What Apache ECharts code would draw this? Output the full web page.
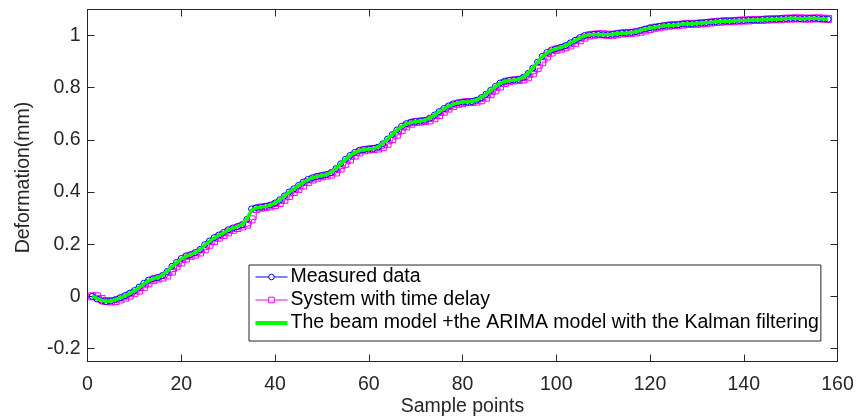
<!DOCTYPE html>
<html>
<head>
<meta charset="utf-8">
<script src="https://cdn.jsdelivr.net/npm/echarts@6/dist/echarts.min.js"></script>
<style>
  html, body { margin: 0; padding: 0; background: #fff; }
  #chart { width: 859px; height: 417px; }
</style>
</head>
<body>
<div id="chart"></div>
<script>
// Deformation recorded at each sample point (mm)
const measured = [
  0.000, -0.010, -0.018, -0.020, -0.018, -0.012, -0.005, 0.003, 0.012, 0.022,
  0.035, 0.050, 0.062, 0.068, 0.072, 0.080, 0.095, 0.115, 0.130, 0.145,
  0.155, 0.160, 0.168, 0.180, 0.198, 0.212, 0.225, 0.235, 0.245, 0.255,
  0.262, 0.268, 0.275, 0.295, 0.335, 0.340, 0.342, 0.345, 0.350, 0.358,
  0.370, 0.385, 0.400, 0.412, 0.425, 0.438, 0.448, 0.455, 0.460, 0.463,
  0.467, 0.475, 0.490, 0.508, 0.525, 0.540, 0.552, 0.560, 0.563, 0.565,
  0.567, 0.572, 0.585, 0.603, 0.620, 0.638, 0.652, 0.662, 0.668, 0.670,
  0.672, 0.675, 0.683, 0.695, 0.708, 0.720, 0.730, 0.738, 0.742, 0.745,
  0.745, 0.747, 0.752, 0.762, 0.775, 0.790, 0.805, 0.818, 0.825, 0.828,
  0.830, 0.832, 0.840, 0.855, 0.875, 0.898, 0.920, 0.935, 0.945, 0.950,
  0.955, 0.962, 0.972, 0.982, 0.992, 1.000, 1.003, 1.005, 1.005, 1.003,
  1.003, 1.005, 1.008, 1.010, 1.010, 1.012, 1.015, 1.020, 1.025, 1.030,
  1.032, 1.035, 1.038, 1.040, 1.040, 1.042, 1.045, 1.045, 1.045, 1.047,
  1.048, 1.050, 1.052, 1.053, 1.055, 1.055, 1.055, 1.057, 1.058, 1.058,
  1.060, 1.060, 1.060, 1.062, 1.062, 1.063, 1.063, 1.065, 1.065, 1.066,
  1.066, 1.065, 1.065, 1.066, 1.066, 1.065, 1.064, 1.063
];

// Output of the system with one sample of time delay (mm)
const delayed = [
  0.000, 0.000, -0.010, -0.018, -0.020, -0.018, -0.012, -0.005, 0.003, 0.012,
  0.022, 0.035, 0.050, 0.062, 0.068, 0.072, 0.080, 0.095, 0.115, 0.130,
  0.145, 0.155, 0.160, 0.168, 0.180, 0.198, 0.212, 0.225, 0.235, 0.245,
  0.255, 0.262, 0.268, 0.275, 0.295, 0.335, 0.340, 0.342, 0.345, 0.350,
  0.358, 0.370, 0.385, 0.400, 0.412, 0.425, 0.438, 0.448, 0.455, 0.460,
  0.463, 0.467, 0.475, 0.490, 0.508, 0.525, 0.540, 0.552, 0.560, 0.563,
  0.565, 0.567, 0.572, 0.585, 0.603, 0.620, 0.638, 0.652, 0.662, 0.668,
  0.670, 0.672, 0.675, 0.683, 0.695, 0.708, 0.720, 0.730, 0.738, 0.742,
  0.745, 0.745, 0.747, 0.752, 0.762, 0.775, 0.790, 0.805, 0.818, 0.825,
  0.828, 0.830, 0.832, 0.840, 0.855, 0.875, 0.898, 0.920, 0.935, 0.945,
  0.950, 0.955, 0.962, 0.972, 0.982, 0.992, 1.000, 1.003, 1.005, 1.005,
  1.003, 1.003, 1.005, 1.008, 1.010, 1.010, 1.012, 1.015, 1.020, 1.025,
  1.030, 1.032, 1.035, 1.038, 1.040, 1.040, 1.042, 1.045, 1.045, 1.045,
  1.047, 1.048, 1.050, 1.052, 1.053, 1.055, 1.055, 1.055, 1.057, 1.058,
  1.058, 1.060, 1.060, 1.060, 1.062, 1.062, 1.063, 1.063, 1.065, 1.065,
  1.066, 1.066, 1.065, 1.065, 1.066, 1.066, 1.065, 1.064
];

// Beam model + ARIMA model with Kalman filtering (mm)
const kalman = [
  0.000, -0.008, -0.016, -0.019, -0.018, -0.013, -0.006, 0.002, 0.011, 0.021,
  0.034, 0.048, 0.060, 0.068, 0.073, 0.081, 0.096, 0.114, 0.129, 0.143,
  0.154, 0.160, 0.168, 0.180, 0.196, 0.211, 0.224, 0.234, 0.244, 0.254,
  0.262, 0.268, 0.276, 0.296, 0.330, 0.339, 0.342, 0.345, 0.350, 0.358,
  0.370, 0.385, 0.399, 0.412, 0.425, 0.437, 0.447, 0.455, 0.460, 0.463,
  0.467, 0.476, 0.490, 0.507, 0.524, 0.539, 0.551, 0.559, 0.563, 0.565,
  0.567, 0.573, 0.586, 0.603, 0.620, 0.637, 0.651, 0.661, 0.667, 0.670,
  0.672, 0.676, 0.684, 0.695, 0.708, 0.719, 0.729, 0.737, 0.742, 0.745,
  0.746, 0.748, 0.753, 0.763, 0.776, 0.790, 0.804, 0.817, 0.824, 0.828,
  0.830, 0.833, 0.841, 0.856, 0.876, 0.897, 0.918, 0.933, 0.944, 0.950,
  0.955, 0.962, 0.971, 0.981, 0.991, 0.999, 1.003, 1.004, 1.004, 1.003,
  1.003, 1.005, 1.008, 1.009, 1.010, 1.012, 1.015, 1.020, 1.025, 1.029,
  1.032, 1.035, 1.038, 1.039, 1.040, 1.042, 1.044, 1.045, 1.045, 1.047,
  1.048, 1.050, 1.051, 1.053, 1.054, 1.055, 1.055, 1.057, 1.058, 1.058,
  1.059, 1.060, 1.060, 1.061, 1.062, 1.063, 1.063, 1.064, 1.065, 1.066,
  1.066, 1.065, 1.065, 1.066, 1.066, 1.065, 1.064, 1.063
];

const xTicks = [0, 20, 40, 60, 80, 100, 120, 140, 160];
const yTicks = [-0.2, 0, 0.2, 0.4, 0.6, 0.8, 1];

const seriesNames = [
  'Measured data',
  'System with time delay',
  'The beam model +the ARIMA model with the Kalman filtering'
];

// Pair each value with its sample index (1-based)
const withIndex = arr => arr.map((v, i) => [i + 1, v]);

const FONT = 'Liberation Sans, Arial, sans-serif';
const FONT_SIZE = 19.5;
const INK = '#262626';

const chart = echarts.init(document.getElementById('chart'), null, { renderer: 'canvas' });

const baseX = {
  type: 'value', min: 0, max: 160, interval: 20,
  axisLine: { show: true, onZero: false, lineStyle: { color: INK, width: 1 } },
  axisTick: { show: true, inside: true, length: 7, lineStyle: { color: INK } },
  splitLine: { show: false }
};
const baseY = {
  type: 'value', min: -0.25, max: 1.1,
  axisLine: { show: true, onZero: false, lineStyle: { color: INK, width: 1 } },
  axisTick: { show: true, inside: true, length: 7, customValues: yTicks, lineStyle: { color: INK } },
  splitLine: { show: false }
};

chart.setOption({
  animation: false,
  backgroundColor: '#fff',
  grid: {
    left: 87.5, right: 21.5, top: 9.5, bottom: 55.5,
    containLabel: false, outerBoundsMode: 'none'
  },
  xAxis: [
    Object.assign({}, baseX, {
      position: 'bottom',
      name: 'Sample points', nameLocation: 'middle', nameGap: 35, nameMoveOverlap: false,
      nameTextStyle: { fontFamily: FONT, fontSize: FONT_SIZE, color: INK },
      axisLabel: { show: true, margin: 13, fontFamily: FONT, fontSize: FONT_SIZE, color: INK,
        customValues: xTicks }
    }),
    Object.assign({}, baseX, { position: 'top', axisLabel: { show: false } })
  ],
  yAxis: [
    Object.assign({}, baseY, {
      position: 'left',
      name: 'Deformation(mm)', nameLocation: 'middle', nameGap: 54, nameRotate: 90,
      nameMoveOverlap: false,
      nameTextStyle: { fontFamily: FONT, fontSize: FONT_SIZE, color: INK, padding: [0, 0, 0, 16] },
      axisLabel: { show: true, margin: 7, fontFamily: FONT, fontSize: FONT_SIZE, color: INK,
        customValues: yTicks,
        formatter: v => String(Math.round(v * 10) / 10) }
    }),
    Object.assign({}, baseY, { position: 'right', axisLabel: { show: false } })
  ],
  legend: {
    orient: 'vertical',
    left: 249, top: 265,
    padding: [2, 2, 8, 6],
    itemGap: 3,
    itemWidth: 32, itemHeight: 7,
    backgroundColor: '#fff',
    borderColor: INK, borderWidth: 1, borderRadius: 0,
    lineStyle: { width: 1 },
    textStyle: { fontFamily: FONT, fontSize: FONT_SIZE, color: '#000', padding: [0, 0, 0, -2] },
    data: [
      { name: seriesNames[0], itemStyle: { color: '#fff', borderColor: '#0000ff', borderWidth: 1 } },
      { name: seriesNames[1], itemStyle: { color: '#fff', borderColor: '#ff00ff', borderWidth: 1 } },
      { name: seriesNames[2], icon: 'path://M0 0H32V4H0Z', itemStyle: { color: '#00ff00' } }
    ]
  },
  series: [
    {
      name: seriesNames[0], type: 'line', z: 3,
      data: withIndex(measured),
      symbol: 'circle', symbolSize: 6, showAllSymbol: true,
      lineStyle: { color: '#0000ff', width: 1 },
      itemStyle: { color: 'rgba(0,0,0,0)', borderColor: '#0000ff', borderWidth: 1 }
    },
    {
      name: seriesNames[1], type: 'line', z: 2, step: 'end',
      data: withIndex(delayed),
      symbol: 'rect', symbolSize: 7, showAllSymbol: true,
      lineStyle: { color: '#ff00ff', width: 1 },
      itemStyle: { color: 'rgba(0,0,0,0)', borderColor: '#ff00ff', borderWidth: 1 }
    },
    {
      name: seriesNames[2], type: 'line', z: 4,
      data: withIndex(kalman),
      symbol: 'none',
      lineStyle: { color: '#00ff00', width: 3.5 },
      itemStyle: { color: '#00ff00' }
    }
  ]
});
</script>
</body>
</html>
